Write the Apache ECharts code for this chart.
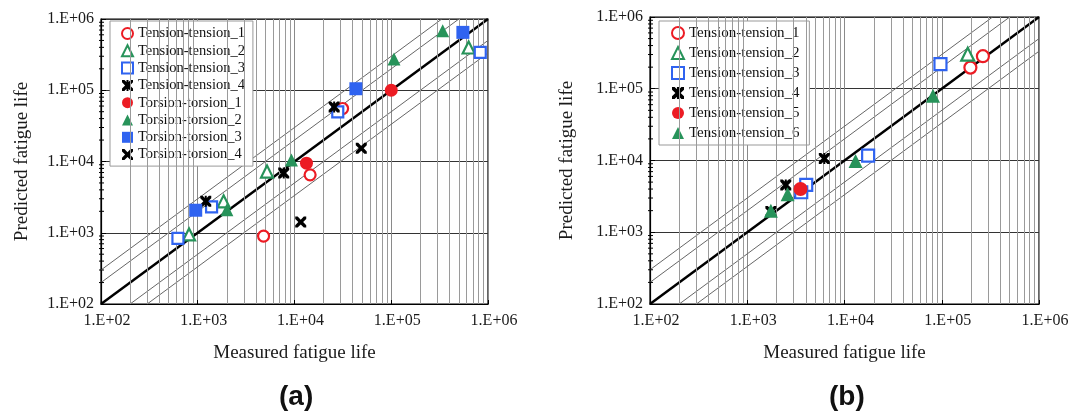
<!DOCTYPE html>
<html><head><meta charset="utf-8">
<script src="https://cdn.jsdelivr.net/npm/echarts@6/dist/echarts.min.js"></script>
<style>html,body{margin:0;padding:0;background:#fff}#c{width:1076px;height:416px}</style>
</head><body><div id="c"></div>
<script>
// tick labels
const tickLabels = ['1.E+02', '1.E+03', '1.E+04', '1.E+05', '1.E+06'];
const xTitle = 'Measured fatigue life';
const yTitle = 'Predicted fatigue life';
const panelLabels = ['(a)', '(b)'];
// scatter-band factors
const bandFactors = [2, 3];

// Panel (a): [measured, predicted]
const aTT1 = [[31400, 55400], [14500, 6500], [4790, 898]];
const aTT2 = [[813, 946], [1850, 2760], [5200, 7230], [631000, 398000]];
const aTT3 = [[624, 832], [1390, 2310], [28000, 49700], [832000, 341000]];
const aTT4 = [[1210, 2760], [7740, 6870], [25700, 58300]];
const aTo1 = [[13300, 9460], [100000, 100000]];
const aTo2 = [[2000, 2110], [9300, 10500], [106700, 275000], [340000, 684000]];
const aTo3 = [[953, 2070], [43100, 105000], [550000, 649000]];
const aTo4 = [[11600, 1410], [49000, 15300]];

// Panel (b)
const bTT1 = [[197000, 197000], [265000, 284000]];
const bTT2 = [[185000, 303000]];
const bTT3 = [[97000, 220000], [17500, 11700], [4040, 4570], [3590, 3610]];
const bTT4 = [[6200, 10700], [2490, 4570], [1750, 1940]];
const bTT5 = [[3530, 4010]];
const bTT6 = [[1750, 2000], [2600, 3390], [13000, 9840], [81300, 79600]];

const RED = '#ec1c24', GREEN = '#27935a', BLUE = '#2f63f0', BLACK = '#000';
const XPATH = 'path://M0,0 L2.2,0 L5,2.8 L7.8,0 L10,0 L10,2.2 L7.2,5 L10,7.8 L10,10 L7.8,10 L5,7.2 L2.2,10 L0,10 L0,7.8 L2.8,5 L0,2.2 Z';
const STARPATH = XPATH + ' M4.1,0 L5.9,0 L5.9,10 L4.1,10 Z';

function sc(name, data, gi, shape, color, open, size) {
  return {
    type: 'scatter', name, data, xAxisIndex: gi, yAxisIndex: gi,
    symbol: shape, symbolSize: size, symbolKeepAspect: true, z: 5,
    itemStyle: open ? { color: '#fff', borderColor: color, borderWidth: 2.2, opacity: 1 }
                    : { color: color, opacity: 1 }
  };
}

const minorVals = [];
for (let d = 100; d < 1e6; d *= 10) for (let k = 2; k <= 9; k++) minorVals.push(d * k);

function gridHelper(gi) {
  return {
    type: 'line', xAxisIndex: gi, yAxisIndex: gi, data: [[100, 100]], showSymbol: false,
    lineStyle: { opacity: 0 }, silent: true, z: 1,
    markLine: { silent: true, symbol: 'none', label: { show: false },
      lineStyle: { color: '#9a9a9a', width: 1, type: 'solid' },
      data: minorVals.map(v => ({ xAxis: v })) }
  };
}
// minor ticks along the left axis, placed through the axis scale
function yMinorTicks(gi) {
  return {
    type: 'custom', xAxisIndex: gi, yAxisIndex: gi, silent: true, z: 4,
    data: minorVals.map(v => [100, v]),
    renderItem: function (params, api) {
      const p = api.coord([api.value(0), api.value(1)]);
      return { type: 'line', shape: { x1: p[0] - 2, y1: p[1], x2: p[0] + 3, y2: p[1] },
        style: { stroke: '#000', lineWidth: 1 } };
    }
  };
}
function diag(gi) {
  const out = [{
    type: 'line', xAxisIndex: gi, yAxisIndex: gi, data: [[100, 100], [1e6, 1e6]],
    showSymbol: false, silent: true, z: 3, lineStyle: { color: '#000', width: 2.5 }
  }];
  bandFactors.forEach(f => {
    out.push({ type: 'line', xAxisIndex: gi, yAxisIndex: gi, data: [[100, 100 * f], [1e6 / f, 1e6]],
      showSymbol: false, silent: true, z: 2, lineStyle: { color: '#666', width: 1 } });
    out.push({ type: 'line', xAxisIndex: gi, yAxisIndex: gi, data: [[100 * f, 100], [1e6, 1e6 / f]],
      showSymbol: false, silent: true, z: 2, lineStyle: { color: '#666', width: 1 } });
  });
  return out;
}
function lbl(v) { return tickLabels[Math.round(Math.log10(v)) - 2]; }
const serif = 'Liberation Serif';
function xAx(gi) {
  return { type: 'log', logBase: 10, gridIndex: gi, min: 100, max: 1e6,
    axisLine: { lineStyle: { color: '#000', width: 1.2 } },
    axisTick: { show: true, inside: true, length: 4, lineStyle: { color: '#000' } },
    axisLabel: { formatter: lbl, fontFamily: serif, fontSize: 16, color: '#1a1a1a', margin: 9, padding: [0, 0, 0, 12] },
    splitLine: { show: true, lineStyle: { color: '#8a8a8a', width: 1 } },
    name: xTitle, nameLocation: 'middle', nameGap: 40,
    nameTextStyle: { fontFamily: serif, fontSize: 19, color: '#1a1a1a' } };
}
function yAx(gi, gap) {
  return { type: 'log', logBase: 10, gridIndex: gi, min: 100, max: 1e6,
    axisLine: { lineStyle: { color: '#000', width: 1.2 } },
    axisTick: { show: true, inside: true, length: 5, lineStyle: { color: '#000' } },
    axisLabel: { formatter: lbl, fontFamily: serif, fontSize: 16, color: '#1a1a1a', margin: 7 },
    splitLine: { show: true, lineStyle: { color: '#333', width: 1 } },
    name: yTitle, nameLocation: 'middle', nameGap: gap, nameRotate: 90,
    nameTextStyle: { fontFamily: serif, fontSize: 19, color: '#1a1a1a' } };
}

const seriesA = [
  sc('Tension-tension_1', aTT1, 0, 'circle', RED, true, 11),
  sc('Tension-tension_2', aTT2, 0, 'triangle', GREEN, true, 12),
  sc('Tension-tension_3', aTT3, 0, 'rect', BLUE, true, 11),
  sc('Tension-tension_4', aTT4, 0, STARPATH, BLACK, false, 11),
  sc('Torsion-torsion_1', aTo1, 0, 'circle', RED, false, 13),
  sc('Torsion-torsion_2', aTo2, 0, 'triangle', GREEN, false, 13),
  sc('Torsion-torsion_3', aTo3, 0, 'rect', BLUE, false, 13),
  sc('Torsion-torsion_4', aTo4, 0, XPATH, BLACK, false, 11)
];
const seriesB = [
  sc('Tension-tension_1 ', bTT1, 1, 'circle', RED, true, 12),
  sc('Tension-tension_2 ', bTT2, 1, 'triangle', GREEN, true, 13),
  sc('Tension-tension_3 ', bTT3, 1, 'rect', BLUE, true, 12),
  sc('Tension-tension_4 ', bTT4, 1, STARPATH, BLACK, false, 11),
  sc('Tension-tension_5 ', bTT5, 1, 'circle', RED, false, 14),
  sc('Tension-tension_6 ', bTT6, 1, 'triangle', GREEN, false, 14)
];

const chart = echarts.init(document.getElementById('c'), null, { renderer: 'canvas' });
chart.setOption({
  animation: false,
  backgroundColor: '#fff',
  grid: [
    { left: 101, top: 19, width: 387, height: 285, show: true, borderColor: '#000', borderWidth: 1.2, backgroundColor: 'transparent' },
    { left: 650, top: 17, width: 389, height: 287, show: true, borderColor: '#000', borderWidth: 1.2, backgroundColor: 'transparent' }
  ],
  xAxis: [xAx(0), xAx(1)],
  yAxis: [yAx(0, 69), yAx(1, 73)],
  legend: [
    { data: seriesA.map(s => s.name), orient: 'vertical', left: 110, top: 21,
      padding: [5, 8, 4, 11], itemWidth: 11, itemHeight: 11, itemGap: 2.3,
      backgroundColor: '#fff', borderColor: '#999', borderWidth: 1, borderRadius: 0,
      textStyle: { fontFamily: serif, fontSize: 14.5, lineHeight: 15, color: '#111' } },
    { data: seriesB.map(s => s.name), orient: 'vertical', left: 659, top: 21,
      padding: [4, 6, 4, 12], itemWidth: 12, itemHeight: 12, itemGap: 4,
      backgroundColor: '#fff', borderColor: '#999', borderWidth: 1, borderRadius: 0,
      textStyle: { fontFamily: serif, fontSize: 15, lineHeight: 16, color: '#111' } }
  ],
  graphic: [
    { type: 'text', left: 296 - 17, top: 383, style: { text: panelLabels[0], font: 'bold 28px "Liberation Sans"', fill: '#111' } },
    { type: 'text', left: 846 - 17, top: 383, style: { text: panelLabels[1], font: 'bold 28px "Liberation Sans"', fill: '#111' } }
  ],
  series: [gridHelper(0), gridHelper(1), yMinorTicks(0), yMinorTicks(1), ...diag(0), ...diag(1), ...seriesA, ...seriesB]
});
</script>
</body></html>
